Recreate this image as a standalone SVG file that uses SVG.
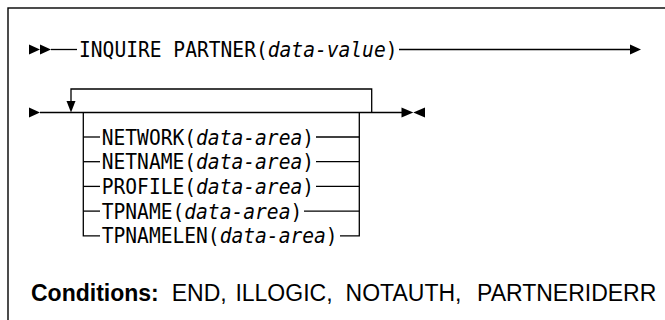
<svg xmlns="http://www.w3.org/2000/svg" width="665" height="320" viewBox="0 0 665 320">
<style>
.ln{stroke:#000;stroke-width:1.3;fill:none}
.ah{fill:#000;stroke:none}
.mono{font-family:"DejaVu Sans Mono","Liberation Mono",monospace;font-size:21px;fill:#000}
.it{font-style:italic}
.cond{font-family:"Liberation Sans",Arial,sans-serif;font-size:23px;fill:#000}
</style>
<rect x="8" y="8" width="720" height="400" fill="#fff" stroke="#000" stroke-width="1.4"/>
<g id="connectors">
  <polygon class="ah" points="29,44.5 40,49.5 29,54.5"/>
  <polygon class="ah" points="40,44.5 51,49.5 40,54.5"/>
  <line class="ln" x1="51" y1="49.5" x2="77" y2="49.5"/>
  <line class="ln" x1="399" y1="49.5" x2="631" y2="49.5"/>
  <polygon class="ah" points="630,44.5 641,49.5 630,54.5"/>
  <polygon class="ah" points="29,107.5 40,112.5 29,117.5"/>
  <line class="ln" x1="40" y1="112.5" x2="402" y2="112.5"/>
  <polygon class="ah" points="401.5,107.5 413.3,112.5 401.5,117.5"/>
  <polygon class="ah" points="425,107.5 413.3,112.5 425,117.5"/>
  <polyline class="ln" points="371.7,112.5 371.7,89 71,89 71,102"/>
  <polygon class="ah" points="66.5,101 75.5,101 71,112.5"/>
  <polyline class="ln" points="83.3,112.5 83.3,235.8 100,235.8"/>
  <polyline class="ln" points="359.3,112.5 359.3,235.8 340,235.8"/>
  <line class="ln" x1="83.3" y1="137" x2="100" y2="137"/>
  <line class="ln" x1="83.3" y1="161.7" x2="100" y2="161.7"/>
  <line class="ln" x1="83.3" y1="186.4" x2="100" y2="186.4"/>
  <line class="ln" x1="83.3" y1="211.1" x2="100" y2="211.1"/>
  <line class="ln" x1="316" y1="137" x2="359.3" y2="137"/>
  <line class="ln" x1="316" y1="161.7" x2="359.3" y2="161.7"/>
  <line class="ln" x1="316" y1="186.4" x2="359.3" y2="186.4"/>
  <line class="ln" x1="304" y1="211.1" x2="359.3" y2="211.1"/>
</g>
<g id="inquire">
  <text class="mono" transform="translate(79,57) scale(0.934,1)">INQUIRE PARTNER(<tspan class="it">data-value</tspan>)</text>
</g>
<g id="network">
  <text class="mono" transform="translate(101.7,144.5) scale(0.934,1)">NETWORK(<tspan class="it">data-area</tspan>)</text>
</g>
<g id="netname">
  <text class="mono" transform="translate(101.7,169.2) scale(0.934,1)">NETNAME(<tspan class="it">data-area</tspan>)</text>
</g>
<g id="profile">
  <text class="mono" transform="translate(101.7,193.9) scale(0.934,1)">PROFILE(<tspan class="it">data-area</tspan>)</text>
</g>
<g id="tpname">
  <text class="mono" transform="translate(101.7,218.6) scale(0.934,1)">TPNAME(<tspan class="it">data-area</tspan>)</text>
</g>
<g id="tpnamelen">
  <text class="mono" transform="translate(101.7,243.3) scale(0.934,1)">TPNAMELEN(<tspan class="it">data-area</tspan>)</text>
</g>
<g id="conditions">
  <text class="cond" y="300.5"><tspan x="31" font-weight="bold">Conditions:</tspan><tspan x="171.7">END,</tspan><tspan x="235.4">ILLOGIC,</tspan><tspan x="345.6">NOTAUTH,</tspan><tspan x="477">PARTNERIDERR</tspan></text>
</g>
</svg>
